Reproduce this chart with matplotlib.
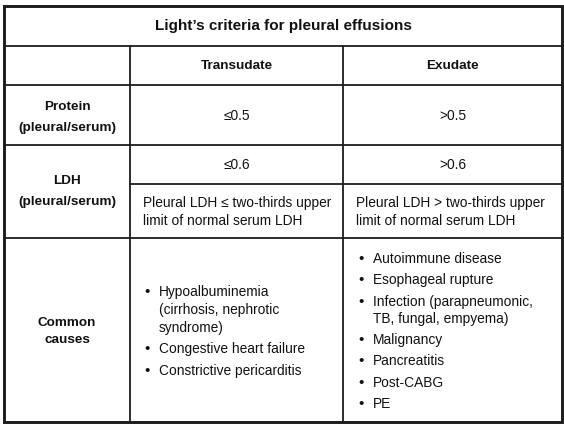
import matplotlib
matplotlib.use("Agg")
import matplotlib.pyplot as plt

plt.rcParams['font.family'] = ['Liberation Sans', 'DejaVu Sans']

title = "Light\u2019s criteria for pleural effusions"
col_heads = ["Transudate", "Exudate"]
row_heads = [["Protein", "(pleural/serum)"], ["LDH", "(pleural/serum)"], ["Common", "causes"]]
protein_vals = ["\u22640.5", ">0.5"]
ldh_vals = ["\u22640.6", ">0.6"]
ldh_notes = [["Pleural LDH \u2264 two-thirds upper", "limit of normal serum LDH"],
             ["Pleural LDH > two-thirds upper", "limit of normal serum LDH"]]
trans_causes = [["Hypoalbuminemia", "(cirrhosis, nephrotic", "syndrome)"],
                ["Congestive heart failure"],
                ["Constrictive pericarditis"]]
exud_causes = [["Autoimmune disease"], ["Esophageal rupture"],
               ["Infection (parapneumonic,", "TB, fungal, empyema)"],
               ["Malignancy"], ["Pancreatitis"], ["Post-CABG"], ["PE"]]

# grid in pixels
xs = [4, 130, 343, 562]
ys = [6, 46, 85, 145, 238, 422]
y_sub = 184

fig = plt.figure(figsize=(5.64, 4.28), dpi=100)
ax = fig.add_axes([0, 0, 1, 1])
ax.set_xlim(0, 564)
ax.set_ylim(428, 0)
ax.axis('off')

lc = '#1c1c1c'
# outer border
ax.plot([xs[0], xs[3], xs[3], xs[0], xs[0]], [ys[0], ys[0], ys[5], ys[5], ys[0]], color=lc, lw=2.1, solid_joinstyle='miter')
for y in ys[1:5]:
    ax.plot([xs[0], xs[3]], [y, y], color=lc, lw=1.3)
for x in xs[1:3]:
    ax.plot([x, x], [ys[1], ys[5]], color=lc, lw=1.3)
ax.plot([xs[1], xs[3]], [y_sub, y_sub], color=lc, lw=1.3)

fs = 9.9
bfs = 9.7
tc = '#111111'

ax.text((xs[0] + xs[3]) / 2, 26, title, ha='center', va='center', fontsize=11, fontweight='bold', color=tc)

for i, h in enumerate(col_heads):
    ax.text((xs[i + 1] + xs[i + 2]) / 2, 66, h, ha='center', va='center', fontsize=bfs, fontweight='bold', color=tc)

# row labels
row_y = [(107, 128), (181, 202), (323, 340)]
cx = (xs[0] + xs[1]) / 2
for lab, yy in zip(row_heads, row_y):
    for t, y in zip(lab, yy):
        ax.text(cx, y, t, ha='center', va='center', fontsize=bfs, fontweight='bold', color=tc)

for i in range(2):
    mx = (xs[i + 1] + xs[i + 2]) / 2
    ax.text(mx, 116, protein_vals[i], ha='center', va='center', fontsize=fs, color=tc)
    ax.text(mx, 165, ldh_vals[i], ha='center', va='center', fontsize=fs, color=tc)
    for j, t in enumerate(ldh_notes[i]):
        ax.text(xs[i + 1] + 13, 203 + j * 17.5, t, ha='left', va='center', fontsize=fs, color=tc)


def bullets(items, x0, y0, cont_gap, item_gap):
    y = y0
    for item in items:
        ax.text(x0, y, "\u2022", ha='center', va='center', fontsize=11, color=tc)
        for k, t in enumerate(item):
            ax.text(x0 + 12, y, t, ha='left', va='center', fontsize=fs, color=tc)
            if k < len(item) - 1:
                y += cont_gap
        y += item_gap


bullets(trans_causes, 147, 292, 18, 21.5)
bullets(exud_causes, 361, 259, 17, 21.3)

fig.savefig("out.png", dpi=100, facecolor='white')
